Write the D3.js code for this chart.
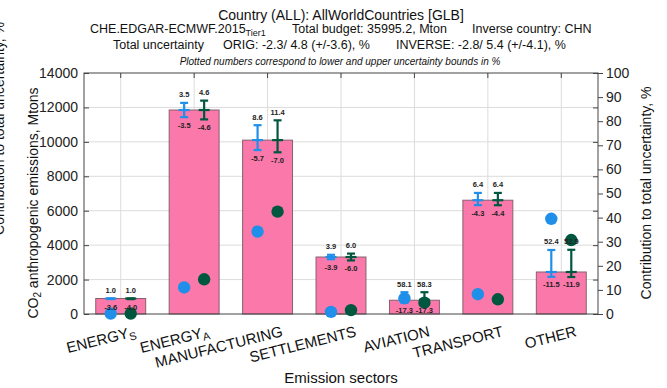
<!DOCTYPE html>
<html><head><meta charset="utf-8">
<script src="https://cdn.jsdelivr.net/npm/d3@7"></script>
<style>
html,body{margin:0;padding:0;background:#fff;}
svg{display:block;font-family:"Liberation Sans",Arial,Helvetica,sans-serif;}
</style></head><body>
<svg id="chart" width="667" height="388"></svg>
<script>
// Sector categories (name + optional subscript)
const sectorNames = ["ENERGY", "ENERGY", "MANUFACTURING", "SETTLEMENTS", "AVIATION", "TRANSPORT", "OTHER"];
const sectorSubs  = ["S", "A", "", "", "", "", ""];

// CO2 anthropogenic emissions per sector, Mtons
const emissions = [900, 11850, 10100, 3310, 800, 6610, 2440];

// Uncertainty bounds in % (original and inverse runs)
const origLower = [-3.6, -3.5, -5.7, -3.9, -17.3, -4.3, -11.5];
const origUpper = [1.0, 3.5, 8.6, 3.9, 58.1, 6.4, 52.4];
const invLower  = [-4.0, -4.6, -7.0, -6.0, -17.3, -4.4, -11.9];
const invUpper  = [1.0, 4.6, 11.4, 6.0, 58.3, 6.4, 52.9];

// Contribution of each sector to total uncertainty, %
const origContrib = [0.2, 11.0, 34.2, 0.9, 6.5, 8.2, 39.5];
const invContrib  = [0.2, 14.4, 42.5, 1.6, 4.7, 6.1, 30.7];

// Axis ticks
const leftTicks  = [0, 2000, 4000, 6000, 8000, 10000, 12000, 14000];
const rightTicks = [0, 10, 20, 30, 40, 50, 60, 70, 80, 90, 100];

const svg = d3.select("#chart");
const m = {left: 84, right: 598, top: 73, bottom: 314};
const idx = d3.range(sectorNames.length);

const x = d3.scaleBand().domain(idx).range([m.left, m.right]).paddingInner(0.32).paddingOuter(0.16);
const yL = d3.scaleLinear().domain([0, 14000]).range([m.bottom, m.top]);
const yR = d3.scaleLinear().domain([0, 100]).range([m.bottom, m.top]);
const cx = i => x(i) + x.bandwidth() / 2;

const BLUE = "#1f8fea", GREEN = "#00573f", PINK = "#fa78aa";
// plain hyphen for negatives, one decimal
const fmt = v => (v < 0 ? "-" : "") + Math.abs(v).toFixed(1);

// grid
const grid = svg.append("g").attr("stroke", "#dcdcdc").attr("stroke-width", 1);
grid.selectAll(".gh").data(leftTicks.slice(1, -1)).join("line")
  .attr("x1", m.left).attr("x2", m.right).attr("y1", d => yL(d)).attr("y2", d => yL(d));
grid.selectAll(".gv").data(idx).join("line")
  .attr("x1", cx).attr("x2", cx).attr("y1", m.top).attr("y2", m.bottom);

// bars
svg.append("g").selectAll("rect").data(idx).join("rect")
  .attr("x", i => x(i)).attr("width", x.bandwidth())
  .attr("y", i => yL(emissions[i])).attr("height", i => yL(0) - yL(emissions[i]))
  .attr("fill", PINK).attr("stroke", "#86606e").attr("stroke-width", 1);

// axes
const axisColor = "#444";
const gl = svg.append("g").attr("transform", `translate(${m.left},0)`)
  .call(d3.axisLeft(yL).tickValues(leftTicks).tickSize(-5).tickPadding(6).tickFormat(d3.format("d")));
const gr = svg.append("g").attr("transform", `translate(${m.right},0)`)
  .call(d3.axisRight(yR).tickValues(rightTicks).tickSize(5).tickPadding(3).tickFormat(d3.format("d")));
const gm = svg.append("g").attr("transform", `translate(${m.right},0)`)
  .call(d3.axisRight(yL).tickValues(leftTicks).tickSize(-5).tickFormat(""));
const gt = svg.append("g").attr("transform", `translate(0,${m.top})`)
  .call(d3.axisTop(x).tickSize(-5).tickFormat(""));
[gl, gr, gm, gt].forEach(g => {
  g.select(".domain").remove();
  g.selectAll("line").attr("stroke", axisColor);
  g.selectAll("text").attr("font-size", 14).attr("fill", "#222")
    .attr("font-family", "'Liberation Sans',Arial,sans-serif");
});

// frame
svg.append("rect").attr("x", m.left).attr("y", m.top)
  .attr("width", m.right - m.left).attr("height", m.bottom - m.top)
  .attr("fill", "none").attr("stroke", axisColor).attr("stroke-width", 1);

// error bars, contribution dots and bound labels
const series = [
  {lo: origLower, hi: origUpper, c: origContrib, col: BLUE, dx: -10},
  {lo: invLower, hi: invUpper, c: invContrib, col: GREEN, dx: 10}
];
const eb = svg.append("g");
const dots = svg.append("g");
const lbl = svg.append("g").attr("font-size", 7.5).attr("font-weight", "bold")
  .attr("fill", "#222").attr("text-anchor", "middle");
series.forEach(s => {
  idx.forEach(i => {
    const px = cx(i) + s.dx;
    const v = emissions[i];
    const yTop = yL(v * (1 + s.hi[i] / 100));
    const yBot = yL(v * (1 + s.lo[i] / 100));
    const g = eb.append("g").attr("stroke", s.col).attr("stroke-width", 2.2);
    g.append("line").attr("x1", px).attr("x2", px).attr("y1", yTop).attr("y2", yBot);
    g.append("line").attr("x1", px - 4).attr("x2", px + 4).attr("y1", yTop).attr("y2", yTop);
    g.append("line").attr("x1", px - 4).attr("x2", px + 4).attr("y1", yBot).attr("y2", yBot);
    g.append("line").attr("x1", px - 5.5).attr("x2", px + 5.5).attr("y1", yL(v)).attr("y2", yL(v));
    dots.append("circle").attr("cx", px).attr("cy", yR(s.c[i])).attr("r", 6.2).attr("fill", s.col);
    lbl.append("text").attr("x", px).attr("y", yTop - 5.5).text(fmt(s.hi[i]));
    lbl.append("text").attr("x", px).attr("y", yBot + 10.5).text(fmt(s.lo[i]));
  });
});

// category labels
const xl = svg.append("g").attr("font-size", 15).attr("fill", "#111");
idx.forEach(i => {
  const t = xl.append("text").attr("text-anchor", "end")
    .attr("transform", `translate(${cx(i) + 16},336) rotate(-14)`);
  t.append("tspan").text(sectorNames[i]);
  if (sectorSubs[i]) t.append("tspan").attr("font-size", 11).attr("dy", 3).text(sectorSubs[i]);
});

// axis titles
svg.append("text").attr("x", 341).attr("y", 383).attr("text-anchor", "middle")
  .attr("font-size", 15).attr("fill", "#111").text("Emission sectors");
const yt = svg.append("text").attr("font-size", 14).attr("fill", "#111").attr("text-anchor", "middle")
  .attr("transform", "translate(38,203) rotate(-90)");
yt.append("tspan").text("CO");
yt.append("tspan").attr("font-size", 10).attr("dy", 3).text("2");
yt.append("tspan").attr("dy", -3).text(" anthropogenic emissions, Mtons");
svg.append("text").attr("font-size", 14).attr("fill", "#111").attr("text-anchor", "middle")
  .attr("transform", "translate(651,193) rotate(-90)").text("Contribution to total uncertainty, %");
svg.append("text").attr("font-size", 14).attr("fill", "#111").attr("text-anchor", "end")
  .attr("transform", "translate(4,22) rotate(-90)").text("Contribution to total uncertainty, %");

// header
const hd = svg.append("g").attr("fill", "#111");
hd.append("text").attr("x", 341).attr("y", 20).attr("text-anchor", "middle").attr("font-size", 14)
  .text("Country (ALL): AllWorldCountries [GLB]");
const l2 = hd.append("text").attr("x", 90).attr("y", 33).attr("font-size", 12.5);
l2.append("tspan").text("CHE.EDGAR-ECMWF.2015");
l2.append("tspan").attr("font-size", 9).attr("dy", 3).text("Tier1");
hd.append("text").attr("x", 292).attr("y", 33).attr("font-size", 12.5).text("Total budget: 35995.2, Mton");
hd.append("text").attr("x", 472).attr("y", 33).attr("font-size", 12.5).text("Inverse country: CHN");
hd.append("text").attr("x", 204).attr("y", 49).attr("font-size", 12.5).attr("text-anchor", "end").text("Total uncertainty");
hd.append("text").attr("x", 223).attr("y", 49).attr("font-size", 12.5).text("ORIG: -2.3/ 4.8 (+/-3.6), %");
hd.append("text").attr("x", 396).attr("y", 49).attr("font-size", 12.5).text("INVERSE: -2.8/ 5.4 (+/-4.1), %");
hd.append("text").attr("x", 340).attr("y", 65).attr("text-anchor", "middle").attr("font-size", 10)
  .attr("font-style", "italic").text("Plotted numbers correspond to lower and upper uncertainty bounds in %");
</script>
</body></html>
